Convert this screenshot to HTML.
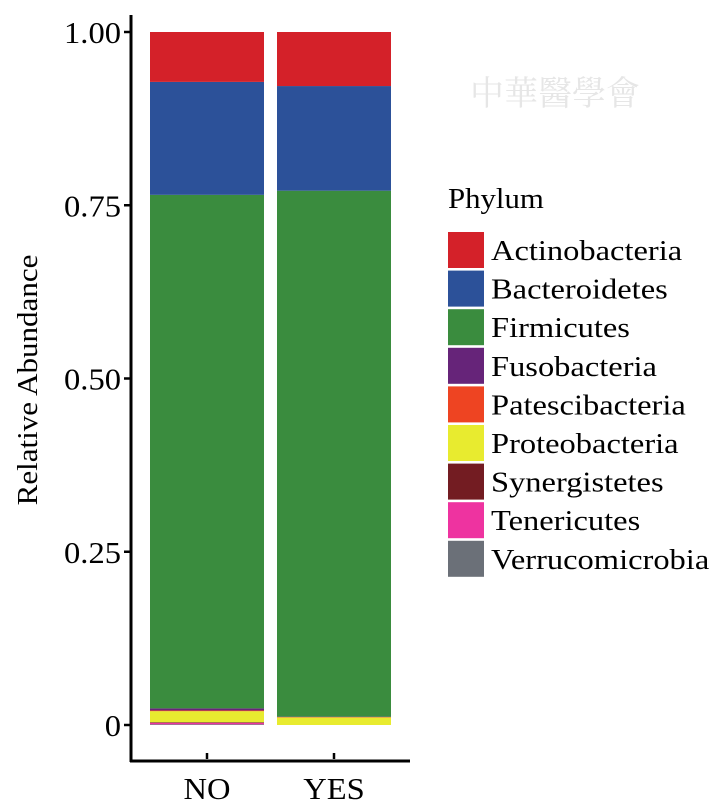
<!DOCTYPE html>
<html><head><meta charset="utf-8"><style>
body{margin:0;background:#fff}
svg{display:block;font-family:"Liberation Serif",serif}
</style></head><body>
<svg id="c" width="716" height="812">
<text x="470" y="105" font-size="34" fill="#e6e6e6" font-family="'Liberation Serif','Noto Serif CJK SC',serif">中華醫學會</text>
<line x1="131" y1="15" x2="131" y2="762" stroke="#000" stroke-width="3"/>
<line x1="130" y1="761" x2="410" y2="761" stroke="#000" stroke-width="3"/>
<text id="yt" transform="translate(37,380) rotate(-90)" text-anchor="middle" font-size="29">Relative Abundance</text>
<text id="lt" x="448" y="208" font-size="28">Phylum</text>
<g id="bars"></g><g id="ticks"></g><g id="legend"></g>
</svg>
<script>
const phyla=["Actinobacteria","Bacteroidetes","Firmicutes","Fusobacteria","Patescibacteria","Proteobacteria","Synergistetes","Tenericutes","Verrucomicrobia"];
const colors=["#d42129","#2c5199","#3a8c3e","#662479","#ee4422","#e8eb2f","#731c22","#ee33a0","#6b7078"];
const groups=["NO","YES"];
const valuesNO=[0.072,0.163,0.741,0.003,0.001,0.016,0.001,0.002,0.001];
const valuesYES=[0.078,0.151,0.759,0.0005,0.0005,0.011,0,0,0];
const yTicks=[0,0.25,0.5,0.75,1];
const yTickLabels=["0","0.25","0.50","0.75","1.00"];
const NS="http://www.w3.org/2000/svg";
const y=v=>725-v*693;
const xLeft=[150,277],bw=114;
function mk(t,a,p){const e=document.createElementNS(NS,t);for(const k in a)e.setAttribute(k,a[k]);p.appendChild(e);return e;}
function widen(el,f){const w=el.getComputedTextLength();el.setAttribute('textLength',w*f);el.setAttribute('lengthAdjust','spacingAndGlyphs');}
const bars=document.getElementById('bars');
[valuesNO,valuesYES].forEach((vals,gi)=>{
  let cum=0;
  for(let i=vals.length-1;i>=0;i--){
    const v=vals[i]; if(v<=0)continue;
    const r=mk('rect',{x:xLeft[gi],y:y(cum+v),width:bw,height:v*693,fill:colors[i]},bars);
    
    
    cum+=v;
  }
  const tk=mk('line',{x1:xLeft[gi]+bw/2,x2:xLeft[gi]+bw/2,y1:753,y2:759,stroke:'#000','stroke-width':2.5},bars);
  
  
  const t=mk('text',{x:xLeft[gi]+bw/2,y:799,'text-anchor':'middle','font-size':31},bars);
  t.textContent=groups[gi];
  
  
  widen(t,1.05);
});
const ticks=document.getElementById('ticks');
yTicks.forEach((v,i)=>{
  const l=mk('line',{x1:124,x2:131,y1:y(v),y2:y(v),stroke:'#000','stroke-width':2.5},ticks);
  
  
  const t=mk('text',{x:121,y:y(v)+11,'text-anchor':'end','font-size':31},ticks);
  t.textContent=yTickLabels[i];
  
  
  widen(t,1.05);
});
const lg=document.getElementById('legend');
phyla.forEach((p,i)=>{
  const cy=232+i*38.6;
  const r=mk('rect',{x:448,y:cy,width:36,height:36,fill:colors[i]},lg);
  
  
  const t=mk('text',{x:491,y:cy+28,'font-size':28},lg);
  t.textContent=p;
  
  
  widen(t,1.16);
});
widen(document.getElementById('yt'),1.07);
widen(document.getElementById('lt'),1.1);
</script>
</body></html>
